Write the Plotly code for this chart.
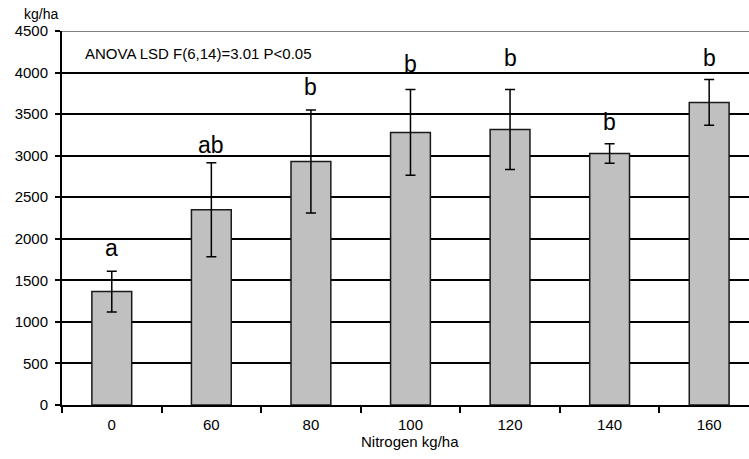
import plotly.graph_objects as go

categories = ["0", "60", "80", "100", "120", "140", "160"]
yield_mean = [1365, 2350, 2930, 3280, 3315, 3025, 3640]
yield_err = [245, 565, 620, 517, 482, 117, 275]
letters = ["a", "ab", "b", "b", "b", "b", "b"]
letter_baseline = [1793, 3029, 3730, 4011, 4083, 3309, 4083]
y_ticks = [0, 500, 1000, 1500, 2000, 2500, 3000, 3500, 4000, 4500]

FONT = "Liberation Sans, Arial, sans-serif"
LETTER_SIZE = 23

fig = go.Figure()
fig.add_trace(go.Bar(
    x=categories, y=yield_mean, width=0.4,
    marker=dict(color="#c0c0c0", line=dict(color="#1a1a1a", width=1.5)),
    error_y=dict(type="data", array=yield_err, visible=True,
                 color="black", thickness=1.5, width=5),
    showlegend=False,
))

px_per_unit = 374 / 4500.0
for i, (lab, yb) in enumerate(zip(letters, letter_baseline)):
    fig.add_annotation(x=i, y=yb + 0.35 * LETTER_SIZE / px_per_unit, text=lab,
                       showarrow=False, xref="x", yref="y",
                       xanchor="center", yanchor="middle",
                       font=dict(family=FONT, size=LETTER_SIZE, color="black"))

fig.add_annotation(x=(83 - 62) / 687, y=4227, xref="paper", yref="y",
                   text="ANOVA LSD F(6,14)=3.01 P<0.05", showarrow=False,
                   xanchor="left", yanchor="middle",
                   font=dict(family=FONT, size=15, color="black"))
fig.add_annotation(x=(41 - 62) / 687, y=(405 - 14) / 374, xref="paper", yref="paper",
                   text="kg/ha", showarrow=False, xanchor="center", yanchor="middle",
                   font=dict(family=FONT, size=14, color="black"))
fig.add_annotation(x=(410 - 62) / 687, y=-(441 - 405) / 374, xref="paper", yref="paper",
                   text="Nitrogen kg/ha", showarrow=False, xanchor="center", yanchor="middle",
                   font=dict(family=FONT, size=15, color="black"))

fig.add_shape(type="line", xref="paper", yref="y", x0=0, x1=1, y0=4500, y1=4500,
              line=dict(color="#808080", width=2), layer="above")

fig.update_layout(
    width=749, height=459,
    margin=dict(l=62, r=0, t=31, b=54),
    paper_bgcolor="white", plot_bgcolor="white",
    font=dict(family=FONT, size=15, color="black"),
    bargap=0.6,
)
fig.update_xaxes(
    type="category", range=[-0.5, 6.4],
    showline=True, linecolor="black", linewidth=2,
    ticks="outside", tickson="boundaries", ticklen=6, tickwidth=1.5, tickcolor="black",
    ticklabelstandoff=5, showgrid=False,
    tickfont=dict(family=FONT, size=15, color="black"),
)
fig.update_yaxes(
    range=[0, 4500], tickvals=y_ticks,
    showline=True, linecolor="black", linewidth=2,
    ticks="outside", ticklen=5, tickwidth=1.5, tickcolor="black",
    ticklabelstandoff=4,
    showgrid=True, gridcolor="black", gridwidth=1.5, zeroline=False,
    tickfont=dict(family=FONT, size=15, color="black"),
)

fig.write_html("out.html")
